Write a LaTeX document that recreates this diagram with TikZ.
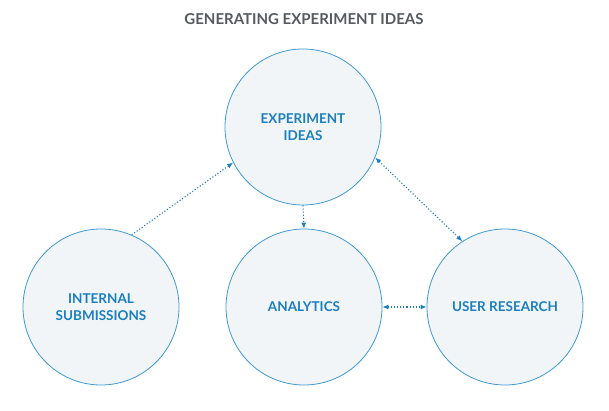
\documentclass[tikz,border=0pt]{standalone}
\usepackage{fontspec}
\setmainfont{Lato}
\usetikzlibrary{arrows.meta}
\definecolor{cblue}{HTML}{1B7FC0}
\definecolor{cedge}{HTML}{3F9AD3}
\definecolor{cfill}{HTML}{F1F5F8}
\definecolor{ctitle}{HTML}{555A60}
\begin{document}
\begin{tikzpicture}[x=1pt,y=-1pt,
  circ/.style={circle,draw=cedge,fill=cfill,line width=0.8pt,minimum size=156pt,inner sep=0pt,align=center,text=cblue,font=\fontsize{13.5}{17}\selectfont\bfseries},
  link/.style={draw=cblue,line width=1.1pt,dotted,-{Latex[length=6pt,width=5pt]}},
  blink/.style={link,{Latex[length=6pt,width=5pt]}-{Latex[length=6pt,width=5pt]}}]
\useasboundingbox (0,0) rectangle (609,411);
\node[font=\fontsize{15}{18}\selectfont\bfseries,text=ctitle] (title) at (304,19) {GENERATING EXPERIMENT IDEAS};
\node[circ] (ideas) at (303,127) {EXPERIMENT\\IDEAS};
\node[circ] (internal) at (101,307) {INTERNAL\\SUBMISSIONS};
\node[circ] (analytics) at (304,307) {ANALYTICS};
\node[circ] (user) at (505,307) {USER RESEARCH};
\draw[link] (internal.67) -- (ideas.207);
\draw[link] (ideas.south) -- (analytics.north);
\draw[blink] (ideas.-23) -- (user.123);
\draw[blink] (analytics.east) -- (user.west);
\end{tikzpicture}
\end{document}
